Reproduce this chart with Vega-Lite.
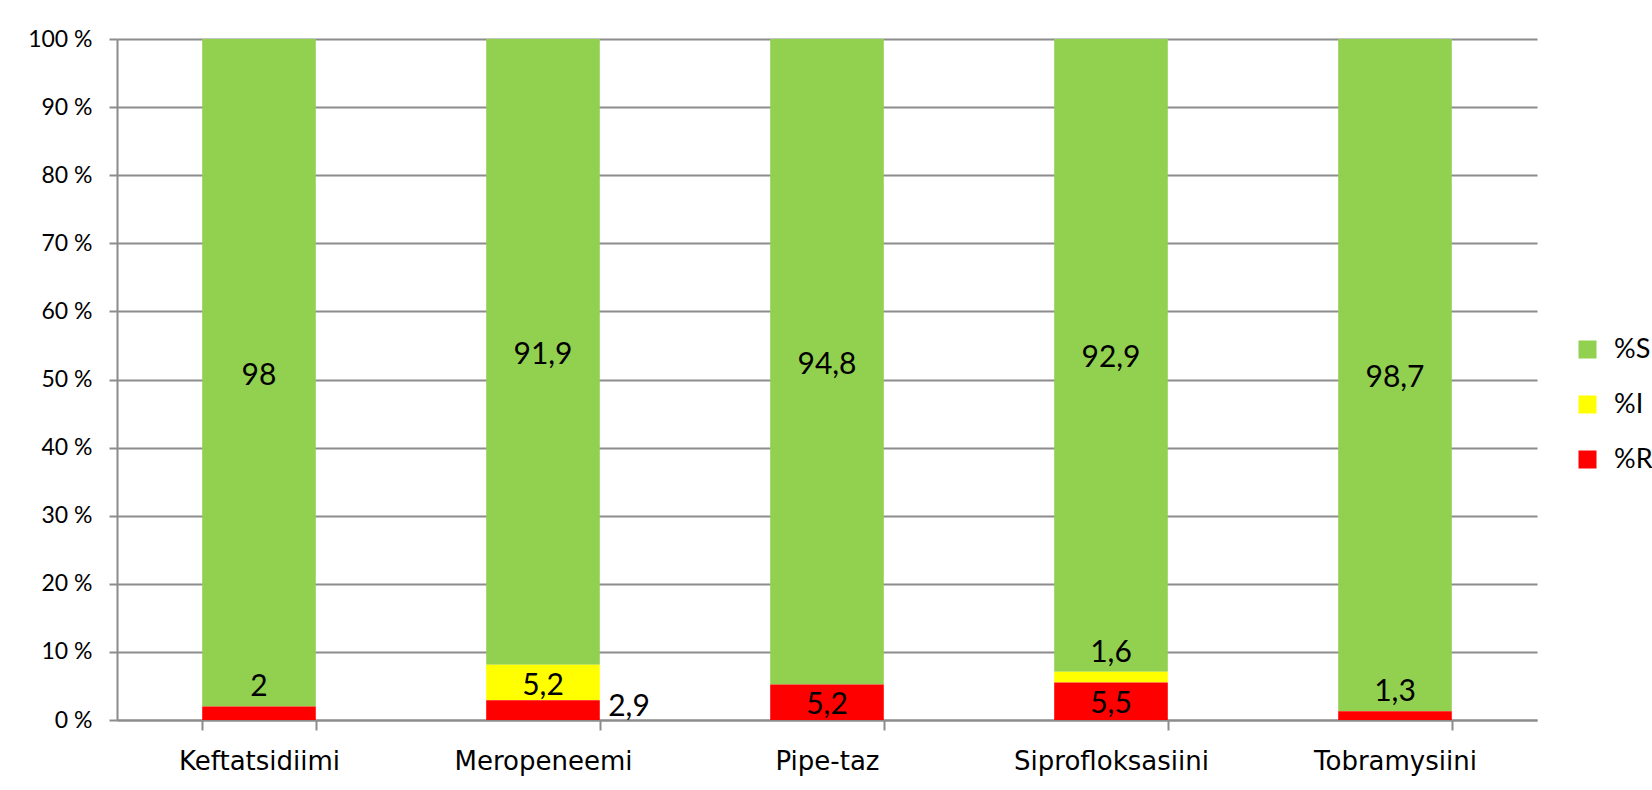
{
  "$schema": "https://vega.github.io/schema/vega-lite/v6.json",
  "width": 1420,
  "height": 681,
  "autosize": {"type": "none"},
  "padding": {"left": 117, "top": 39, "right": 115, "bottom": 70},
  "background": "white",
  "config": {
    "font": "Lato",
    "view": {"stroke": null},
    "axis": {"labelFont": "Lato", "labelColor": "black"}
  },
  "data": {
    "values": [
      {"drug": "Keftatsidiimi", "series": "%S", "value": 98},
      {"drug": "Keftatsidiimi", "series": "%I", "value": 0},
      {"drug": "Keftatsidiimi", "series": "%R", "value": 2},
      {"drug": "Meropeneemi", "series": "%S", "value": 91.9},
      {"drug": "Meropeneemi", "series": "%I", "value": 5.2},
      {"drug": "Meropeneemi", "series": "%R", "value": 2.9},
      {"drug": "Pipe-taz", "series": "%S", "value": 94.8},
      {"drug": "Pipe-taz", "series": "%I", "value": 0},
      {"drug": "Pipe-taz", "series": "%R", "value": 5.2},
      {"drug": "Siprofloksasiini", "series": "%S", "value": 92.9},
      {"drug": "Siprofloksasiini", "series": "%I", "value": 1.6},
      {"drug": "Siprofloksasiini", "series": "%R", "value": 5.5},
      {"drug": "Tobramysiini", "series": "%S", "value": 98.7},
      {"drug": "Tobramysiini", "series": "%I", "value": 0},
      {"drug": "Tobramysiini", "series": "%R", "value": 1.3}
    ]
  },
  "transform": [
    {"calculate": "indexof(['%R','%I','%S'], datum.series)", "as": "ord"},
    {"stack": "value", "groupby": ["drug"], "sort": [{"field": "ord", "order": "ascending"}], "as": ["v0", "v1"]},
    {"calculate": "(datum.v0 + datum.v1) / 2", "as": "mid"},
    {"calculate": "replace(toString(datum.value), '.', ',')", "as": "label"}
  ],
  "encoding": {
    "x": {
      "field": "drug",
      "type": "nominal",
      "sort": null,
      "title": null,
      "scale": {"paddingInner": 0.6, "paddingOuter": 0.3},
      "axis": {
        "labelAngle": 0,
        "labelFont": "DejaVu Sans",
        "labelFontSize": 26,
        "labelLimit": 400,
        "labelPadding": 18,
        "tickBand": "extent",
        "tickSize": 10,
        "tickColor": "#8c8c8c",
        "tickWidth": 2,
        "domainColor": "#8c8c8c",
        "domainWidth": 2,
        "grid": false
      }
    }
  },
  "layer": [
    {
      "mark": {"type": "bar"},
      "encoding": {
        "y": {
          "field": "v0",
          "type": "quantitative",
          "title": null,
          "scale": {"domain": [0, 100], "nice": false},
          "axis": {
            "values": [0, 10, 20, 30, 40, 50, 60, 70, 80, 90, 100],
            "labelExpr": "datum.value + ' %'",
            "labelFontSize": 23,
            "labelPadding": 17,
            "tickSize": 8,
            "tickColor": "#8c8c8c",
            "tickWidth": 2,
            "domainColor": "#8c8c8c",
            "domainWidth": 2,
            "grid": true,
            "gridColor": "#8c8c8c",
            "gridWidth": 2,
            "zindex": 0
          }
        },
        "y2": {"field": "v1"},
        "color": {
          "field": "series",
          "type": "nominal",
          "scale": {"domain": ["%S", "%I", "%R"], "range": ["#92D050", "#FFFF00", "#FF0000"]},
          "legend": {
            "title": null,
            "orient": "none",
            "legendX": 1457,
            "legendY": 297,
            "padding": 0,
            "symbolType": "square",
            "symbolSize": 324,
            "symbolStrokeWidth": 0,
            "labelFontSize": 27,
            "labelOffset": 13,
            "labelColor": "black",
            "rowPadding": 27
          }
        }
      }
    },
    {
      "transform": [
        {"filter": "datum.series == '%S' || (datum.drug == 'Meropeneemi' && datum.series == '%I') || (datum.drug == 'Pipe-taz' && datum.series == '%R') || (datum.drug == 'Siprofloksasiini' && datum.series == '%R')"}
      ],
      "mark": {"type": "text", "fontSize": 30, "color": "black", "baseline": "middle", "align": "center", "dy": 3},
      "encoding": {
        "y": {"field": "mid", "type": "quantitative"},
        "text": {"field": "label"}
      }
    },
    {
      "transform": [
        {"filter": "(datum.drug == 'Keftatsidiimi' && datum.series == '%R') || (datum.drug == 'Siprofloksasiini' && datum.series == '%I') || (datum.drug == 'Tobramysiini' && datum.series == '%R')"}
      ],
      "mark": {"type": "text", "fontSize": 30, "color": "black", "baseline": "middle", "align": "center", "dy": -19},
      "encoding": {
        "y": {"field": "v1", "type": "quantitative"},
        "text": {"field": "label"}
      }
    },
    {
      "transform": [
        {"filter": "datum.drug == 'Meropeneemi' && datum.series == '%R'"}
      ],
      "mark": {"type": "text", "fontSize": 30, "color": "black", "baseline": "middle", "align": "center", "dx": 86, "dy": -3},
      "encoding": {
        "y": {"field": "mid", "type": "quantitative"},
        "text": {"field": "label"}
      }
    }
  ]
}
